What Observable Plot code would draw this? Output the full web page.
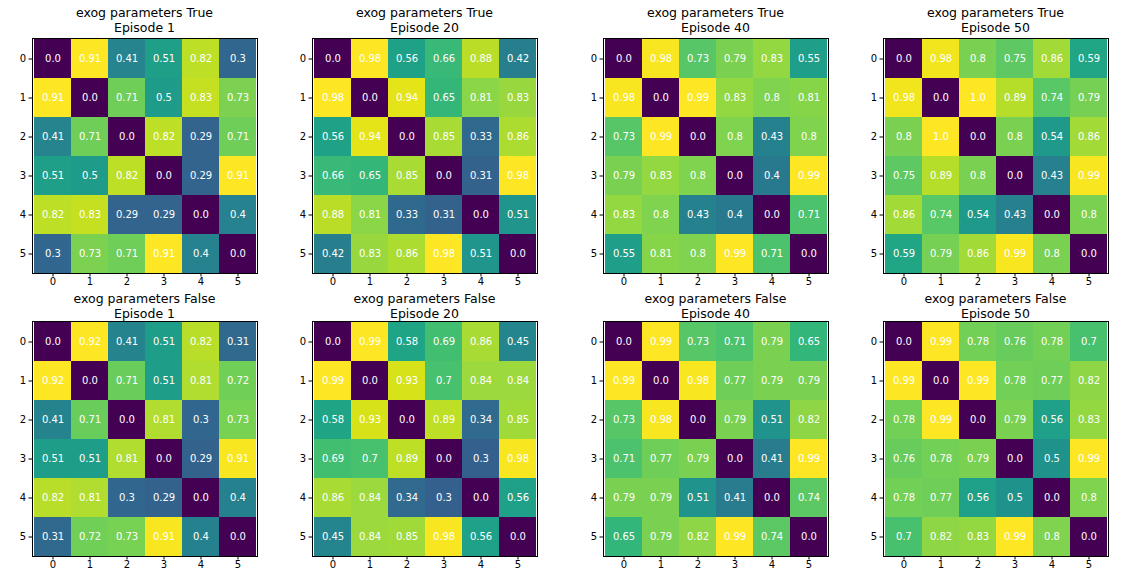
<!DOCTYPE html>
<html><head><meta charset="utf-8">
<script src="https://cdn.jsdelivr.net/npm/d3@7"></script>
<script src="https://cdn.jsdelivr.net/npm/@observablehq/plot@0.6"></script>
<style>
body{margin:0;background:#fff;font-family:"DejaVu Sans",sans-serif;}
#root{position:relative;width:1137px;height:582px;}
.t{position:absolute;text-align:center;font-size:12.5px;line-height:15px;color:#000;width:260px;}
.p{position:absolute;}
</style></head><body><div id="root"></div>
<script>
const labels = [0,1,2,3,4,5];
const episodes = [1,20,40,50];
const rowsTitle = ["True","False"];
const T1 = [[0,0.91,0.41,0.51,0.82,0.3],[0.91,0,0.71,0.5,0.83,0.73],[0.41,0.71,0,0.82,0.29,0.71],[0.51,0.5,0.82,0,0.29,0.91],[0.82,0.83,0.29,0.29,0,0.4],[0.3,0.73,0.71,0.91,0.4,0]];
const T20 = [[0,0.98,0.56,0.66,0.88,0.42],[0.98,0,0.94,0.65,0.81,0.83],[0.56,0.94,0,0.85,0.33,0.86],[0.66,0.65,0.85,0,0.31,0.98],[0.88,0.81,0.33,0.31,0,0.51],[0.42,0.83,0.86,0.98,0.51,0]];
const T40 = [[0,0.98,0.73,0.79,0.83,0.55],[0.98,0,0.99,0.83,0.8,0.81],[0.73,0.99,0,0.8,0.43,0.8],[0.79,0.83,0.8,0,0.4,0.99],[0.83,0.8,0.43,0.4,0,0.71],[0.55,0.81,0.8,0.99,0.71,0]];
const T50 = [[0,0.98,0.8,0.75,0.86,0.59],[0.98,0,1.0,0.89,0.74,0.79],[0.8,1.0,0,0.8,0.54,0.86],[0.75,0.89,0.8,0,0.43,0.99],[0.86,0.74,0.54,0.43,0,0.8],[0.59,0.79,0.86,0.99,0.8,0]];
const F1 = [[0,0.92,0.41,0.51,0.82,0.31],[0.92,0,0.71,0.51,0.81,0.72],[0.41,0.71,0,0.81,0.3,0.73],[0.51,0.51,0.81,0,0.29,0.91],[0.82,0.81,0.3,0.29,0,0.4],[0.31,0.72,0.73,0.91,0.4,0]];
const F20 = [[0,0.99,0.58,0.69,0.86,0.45],[0.99,0,0.93,0.7,0.84,0.84],[0.58,0.93,0,0.89,0.34,0.85],[0.69,0.7,0.89,0,0.3,0.98],[0.86,0.84,0.34,0.3,0,0.56],[0.45,0.84,0.85,0.98,0.56,0]];
const F40 = [[0,0.99,0.73,0.71,0.79,0.65],[0.99,0,0.98,0.77,0.79,0.79],[0.73,0.98,0,0.79,0.51,0.82],[0.71,0.77,0.79,0,0.41,0.99],[0.79,0.79,0.51,0.41,0,0.74],[0.65,0.79,0.82,0.99,0.74,0]];
const F50 = [[0,0.99,0.78,0.76,0.78,0.7],[0.99,0,0.99,0.78,0.77,0.82],[0.78,0.99,0,0.79,0.56,0.83],[0.76,0.78,0.79,0,0.5,0.99],[0.78,0.77,0.56,0.5,0,0.8],[0.7,0.82,0.83,0.99,0.8,0]];
const mats = [[T1,T20,T40,T50],[F1,F20,F40,F50]];

const lefts = [32,312,603,883], tops = [38,321];
const W = 225, H = 235, ML = 26, MB = 22;
const fmt = v => Number.isInteger(v) ? v.toFixed(1) : String(v);
const root = document.getElementById("root");
mats.forEach((row, r) => row.forEach((m, c) => {
  const data = [];
  m.forEach((rw, i) => rw.forEach((v, j) => data.push({x: labels[j], y: labels[i], v})));
  const t = document.createElement("div");
  t.className = "t";
  t.style.left = (lefts[c] + W/2 - 130) + "px";
  t.style.top = (tops[r] - (r === 0 ? 33 : 30)) + "px";
  t.innerHTML = `exog parameters ${rowsTitle[r]}<br>Episode ${episodes[c]}`;
  root.appendChild(t);
  const svg = Plot.plot({
    width: W + ML + 4, height: H + MB + 1,
    marginLeft: ML, marginRight: 4, marginTop: 1, marginBottom: MB,
    style: {fontFamily: "DejaVu Sans", fontSize: "10px", background: "transparent", overflow: "visible"},
    x: {type: "band", domain: labels, padding: 0, label: null},
    y: {type: "band", domain: labels, padding: 0, label: null},
    color: {scheme: "viridis", domain: [d3.min(data, d => d.v), d3.max(data, d => d.v)]},
    marks: [
      Plot.cell(data, {x: "x", y: "y", fill: "v"}),
      Plot.text(data, {x: "x", y: "y", text: d => fmt(d.v), fill: "white", fontSize: 10}),
      Plot.frame({stroke: "black"}),
      Plot.axisX({tickSize: 3.5, tickPadding: 1}),
      Plot.axisY({tickSize: 3.5, tickPadding: 3})
    ]
  });
  const d = document.createElement("div");
  d.className = "p";
  d.style.left = (lefts[c] - ML) + "px";
  d.style.top = (tops[r] - 1) + "px";
  d.appendChild(svg);
  root.appendChild(d);
}));
</script></body></html>
